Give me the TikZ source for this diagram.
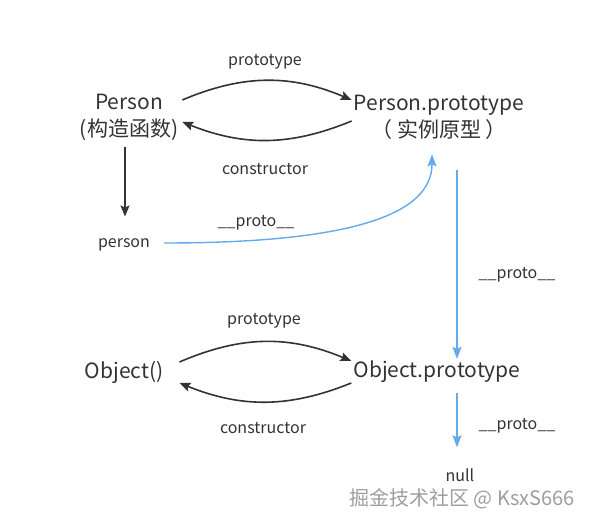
\documentclass[tikz,border=0pt]{standalone}
\usepackage{fontspec}
\setmainfont{Noto Sans CJK SC}
\usetikzlibrary{positioning,arrows.meta}
\definecolor{linkblue}{RGB}{100,170,238}
\definecolor{inkgray}{RGB}{51,51,51}

\begin{document}
\begin{tikzpicture}[
			x=1pt,y=-1pt,
			every node/.style={
					inner sep=2pt,
					align=center,
					text=inkgray
				},
			objnode/.style={font=\fontsize{21}{27}\selectfont},
			lbl/.style={font=\fontsize{16}{19}\selectfont},
			darrow/.style={-{Stealth[length=11pt,width=9pt,inset=2pt]},
					draw=inkgray, line width=1.6pt},
			barrow/.style={-{Stealth[length=12pt,width=9pt,inset=2pt]},
					draw=linkblue, line width=1.4pt},
			>=Stealth
		]
		\useasboundingbox (0,0) rectangle (591,526);

		\node[objnode] (person) at (129,117) {Person\\(构造函数)};
		\node[objnode] (protoP) at (439,117) {Person.prototype\\（ 实例原型 ）};
		\node[lbl] (inst) at (124,245) {person};
		\node[objnode] (obj) at (124,372) {Object()};
		\node[objnode] (protoO) at (437,372) {Object.prototype};
		\node[lbl] (nul) at (460,475) {null};

		\node[lbl] (lblPa) at (265,62) {prototype};
		\node[lbl] (lblPb) at (265,169) {constructor};
		\node[lbl] (lblPi) at (256,223) {\_\_proto\_\_};
		\node[lbl] (lblPo) at (517,275) {\_\_proto\_\_};
		\node[lbl] (lblOa) at (264,321) {prototype};
		\node[lbl] (lblOb) at (263,428) {constructor};
		\node[lbl] (lblOn) at (517,426) {\_\_proto\_\_};

		\node[font=\fontsize{20}{22}\selectfont, text=black!38] (mark) at (462,499)
		{掘金技术社区 @ KsxS666};

		% Person <-> Person.prototype
		\draw[darrow] ([xshift=2pt,yshift=17pt]person.east) to[bend left=23]
			([yshift=17pt]protoP.west);
		\draw[darrow] ([yshift=-4pt]protoP.west) to[bend left=22]
			([xshift=2pt,yshift=-5pt]person.east);
		\draw[darrow, shorten <=5pt, shorten >=20pt] ([xshift=-4pt]person.south)
			-- ([xshift=1pt]inst.north);

		% __proto__ chain
		\draw[barrow] ([xshift=12pt,yshift=2pt]inst.east) .. controls (350,243) and (432,215) ..
			([xshift=-7pt,yshift=-13pt]protoP.south);
		\draw[barrow, shorten <=29pt] ([xshift=18pt]protoP.south)
			-- ([xshift=20pt]protoO.north);
		\draw[barrow, shorten <=8pt, shorten >=19pt] ([xshift=20pt]protoO.south)
			-- ([xshift=-3pt]nul.north);

		% Object() <-> Object.prototype
		\draw[darrow] ([xshift=14pt,yshift=10pt]obj.east) to[bend left=23]
			([yshift=11pt]protoO.west);
		\draw[darrow] ([yshift=-11pt]protoO.west) to[bend left=22]
			([xshift=14pt,yshift=-11pt]obj.east);

	\end{tikzpicture}
\end{document}
